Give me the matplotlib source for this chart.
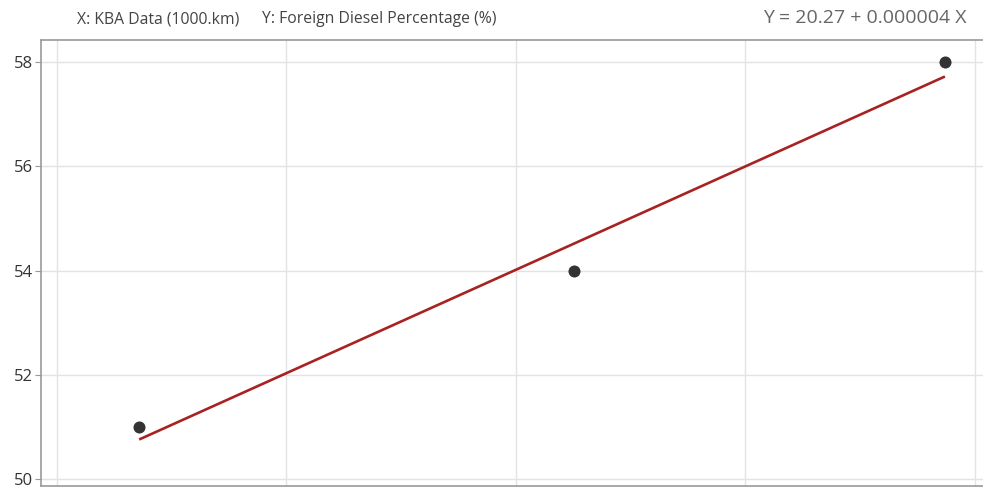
import matplotlib
matplotlib.use("Agg")
import matplotlib.pyplot as plt
import numpy as np

plt.rcParams['font.family'] = ['Open Sans', 'DejaVu Sans']

# data (X in km, Y in %)
kba_km = [7679000, 8627000, 9435000]
foreign_diesel_pct = [51, 54, 58]
y_ticks = [50, 52, 54, 56, 58]
x_grid = [7500000, 8000000, 8500000, 9000000, 9500000]
header_x = "X: KBA Data (1000.km)"
header_y = "Y: Foreign Diesel Percentage (%)"
equation_text = "Y = 20.27 + 0.000004 X"

W, H = 983, 488
fig = plt.figure(figsize=(W / 100, H / 100), dpi=100)
ax = fig.add_axes([41 / W, 2 / H, (W - 41) / W, 446 / H])

x = np.array(kba_km, dtype=float)
y = np.array(foreign_diesel_pct, dtype=float)
slope, intercept = np.polyfit(x, y, 1)
xf = np.array([x.min(), x.max()])
ax.plot(xf, intercept + slope * xf, color='#a82222', lw=1.9, zorder=3, solid_capstyle='butt')
ax.scatter(x, y, s=75, color='#333333', zorder=4, linewidths=0)

ax.set_xlim(7465000, 9518000)
ax.set_ylim(49.87, 58.42)
ax.set_xticks(x_grid)
ax.set_xticklabels([])
ax.set_yticks(y_ticks)
ax.set_yticklabels([str(t) for t in y_ticks])
ax.grid(True, color='#e3e3e3', lw=1.0)
ax.set_axisbelow(True)
for s in ['left', 'top', 'bottom']:
    ax.spines[s].set_color('#9a9a9a')
    ax.spines[s].set_linewidth(1.2)
ax.spines['right'].set_visible(False)
ax.tick_params(axis='y', length=4, color='#9a9a9a', labelsize=12, labelcolor='#333333', pad=2)
ax.tick_params(axis='x', length=0)

fig.text(77 / W, 1 - 19 / H, header_x, fontsize=11.3, color='#444444', va='center', ha='left')
fig.text(262 / W, 1 - 19 / H, header_y, fontsize=11.3, color='#444444', va='center', ha='left')
fig.text(967 / W, 1 - 18 / H, equation_text, fontsize=14, color='#666666', va='center', ha='right')

fig.savefig("out.png", dpi=100)
